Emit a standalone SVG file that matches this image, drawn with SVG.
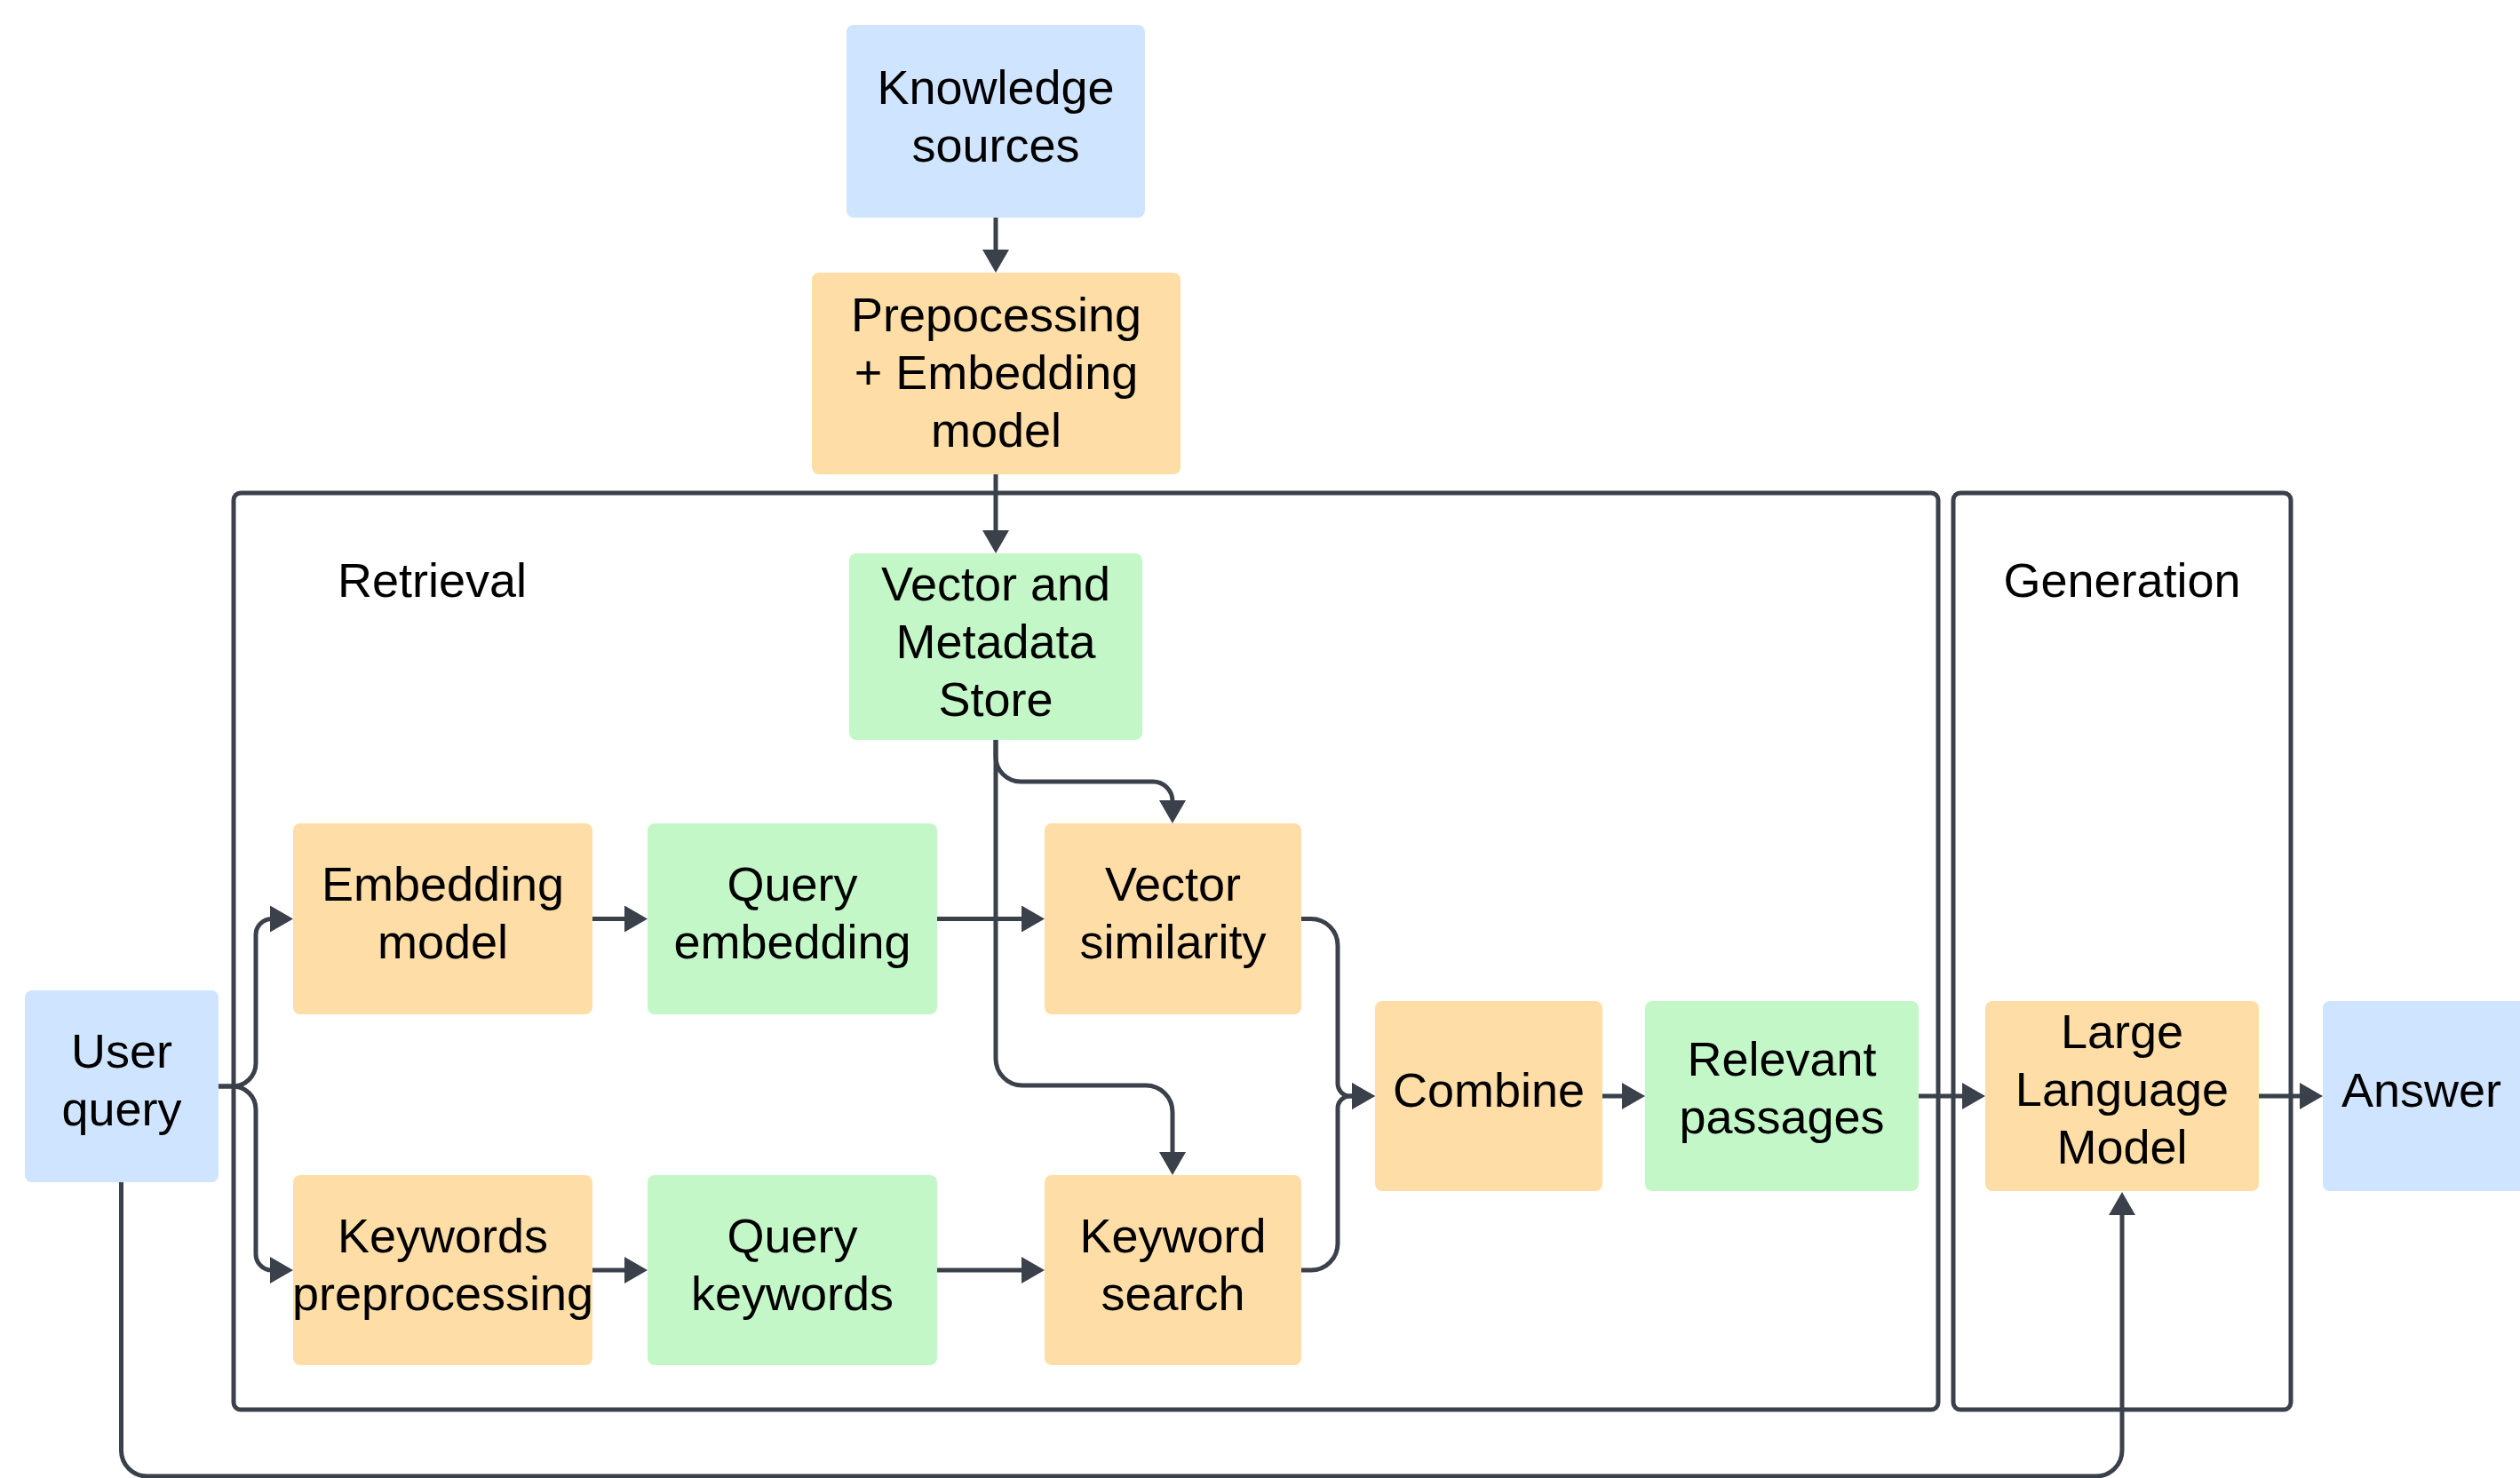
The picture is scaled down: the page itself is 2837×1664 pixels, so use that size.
<svg xmlns="http://www.w3.org/2000/svg" width="2837" height="1664" viewBox="0 0 2837 1664">
<style>
  text { font-family: "Liberation Sans", Arial, sans-serif; font-size: 54px; fill: #000; text-anchor: middle; }
  .blue { fill: #CFE4FF; }
  .orange { fill: #FEDDA6; }
  .green { fill: #C3F7C8; }
  .frame { fill: none; stroke: #3A414A; stroke-width: 5; }
  .conn { fill: none; stroke: #3A414A; stroke-width: 5; marker-end: url(#arrow); }
</style>
<defs>
  <marker id="arrow" viewBox="0 0 26 30" refX="2" refY="15" markerWidth="26" markerHeight="30" markerUnits="userSpaceOnUse" orient="auto">
    <path d="M0,0 L26,15 L0,30 z" fill="#3A414A"/>
  </marker>
</defs>
<rect width="2837" height="1664" fill="#FFFFFF"/>

<g id="frame-retrieval">
  <rect class="frame" x="263" y="555" width="1919" height="1032" rx="8"/>
  <text x="380" y="672" style="text-anchor:start">Retrieval</text>
</g>
<g id="frame-generation">
  <rect class="frame" x="2199" y="555" width="380" height="1032" rx="8"/>
  <text x="2389" y="672">Generation</text>
</g>

<g id="connectors">
  <path class="conn" d="M1121 245 V283"/>
  <path class="conn" d="M1121 534 V599"/>
  <path class="conn" d="M1121 833 V852 A28 28 0 0 0 1149 880 H1298 A22 22 0 0 1 1320 902 V903"/>
  <path class="conn" d="M1121 833 V1192 A30 30 0 0 0 1151 1222 H1290 A30 30 0 0 1 1320 1252 V1299"/>
  <path class="conn" d="M667 1034.5 H705"/>
  <path class="conn" d="M1055 1034.5 H1152"/>
  <path class="conn" d="M667 1430 H705"/>
  <path class="conn" d="M1055 1430 H1152"/>
  <path class="conn" d="M1465 1034.5 H1476 A30 30 0 0 1 1506 1064.5 V1220 A14 14 0 0 0 1520 1234 H1524"/>
  <path class="conn" d="M1465 1430 H1476 A30 30 0 0 0 1506 1400 V1248 A14 14 0 0 1 1520 1234 H1524"/>
  <path class="conn" d="M1804 1234 H1828"/>
  <path class="conn" d="M2160 1234 H2211"/>
  <path class="conn" d="M2543 1234 H2591"/>
  <path class="conn" d="M246 1223 H262 A26 26 0 0 0 288 1197 V1052.5 A18 18 0 0 1 306 1034.5 H306"/>
  <path class="conn" d="M246 1223 H262 A26 26 0 0 1 288 1249 V1412 A18 18 0 0 0 306 1430 H306"/>
  <path class="conn" d="M136.5 1331 V1633 A29 29 0 0 0 165.5 1662 H2360 A29 29 0 0 0 2389 1633 V1366"/>
</g>

<g id="knowledge-sources">
  <rect class="blue" x="953" y="28" width="336" height="217" rx="8"/>
  <text x="1121" y="117">Knowledge</text>
  <text x="1121" y="182">sources</text>
</g>
<g id="preprocessing">
  <rect class="orange" x="914" y="307" width="415" height="227" rx="8"/>
  <text x="1121.5" y="373">Prepocessing</text>
  <text x="1121.5" y="438">+ Embedding</text>
  <text x="1121.5" y="503">model</text>
</g>
<g id="vector-store">
  <rect class="green" x="956" y="623" width="330" height="210" rx="8"/>
  <text x="1121" y="676">Vector and</text>
  <text x="1121" y="741">Metadata</text>
  <text x="1121" y="806">Store</text>
</g>
<g id="embedding-model">
  <rect class="orange" x="330" y="927" width="337" height="215" rx="8"/>
  <text x="498.5" y="1014">Embedding</text>
  <text x="498.5" y="1079">model</text>
</g>
<g id="query-embedding">
  <rect class="green" x="729" y="927" width="326" height="215" rx="8"/>
  <text x="892" y="1014">Query</text>
  <text x="892" y="1079">embedding</text>
</g>
<g id="vector-similarity">
  <rect class="orange" x="1176" y="927" width="289" height="215" rx="8"/>
  <text x="1320.5" y="1014">Vector</text>
  <text x="1320.5" y="1079">similarity</text>
</g>
<g id="keywords-preprocessing">
  <rect class="orange" x="330" y="1323" width="337" height="214" rx="8"/>
  <text x="498.5" y="1410">Keywords</text>
  <text x="498.5" y="1475">preprocessing</text>
</g>
<g id="query-keywords">
  <rect class="green" x="729" y="1323" width="326" height="214" rx="8"/>
  <text x="892" y="1410">Query</text>
  <text x="892" y="1475">keywords</text>
</g>
<g id="keyword-search">
  <rect class="orange" x="1176" y="1323" width="289" height="214" rx="8"/>
  <text x="1320.5" y="1410">Keyword</text>
  <text x="1320.5" y="1475">search</text>
</g>
<g id="user-query">
  <rect class="blue" x="28" y="1115" width="218" height="216" rx="8"/>
  <text x="137" y="1202">User</text>
  <text x="137" y="1267">query</text>
</g>
<g id="combine">
  <rect class="orange" x="1548" y="1127" width="256" height="214" rx="8"/>
  <text x="1676" y="1246">Combine</text>
</g>
<g id="relevant-passages">
  <rect class="green" x="1852" y="1127" width="308" height="214" rx="8"/>
  <text x="2006" y="1211">Relevant</text>
  <text x="2006" y="1276">passages</text>
</g>
<g id="llm">
  <rect class="orange" x="2235" y="1127" width="308" height="214" rx="8"/>
  <text x="2389" y="1180">Large</text>
  <text x="2389" y="1245">Language</text>
  <text x="2389" y="1310">Model</text>
</g>
<g id="answer">
  <rect class="blue" x="2615" y="1127" width="240" height="214" rx="8"/>
  <text x="2726" y="1246">Answer</text>
</g>
</svg>
